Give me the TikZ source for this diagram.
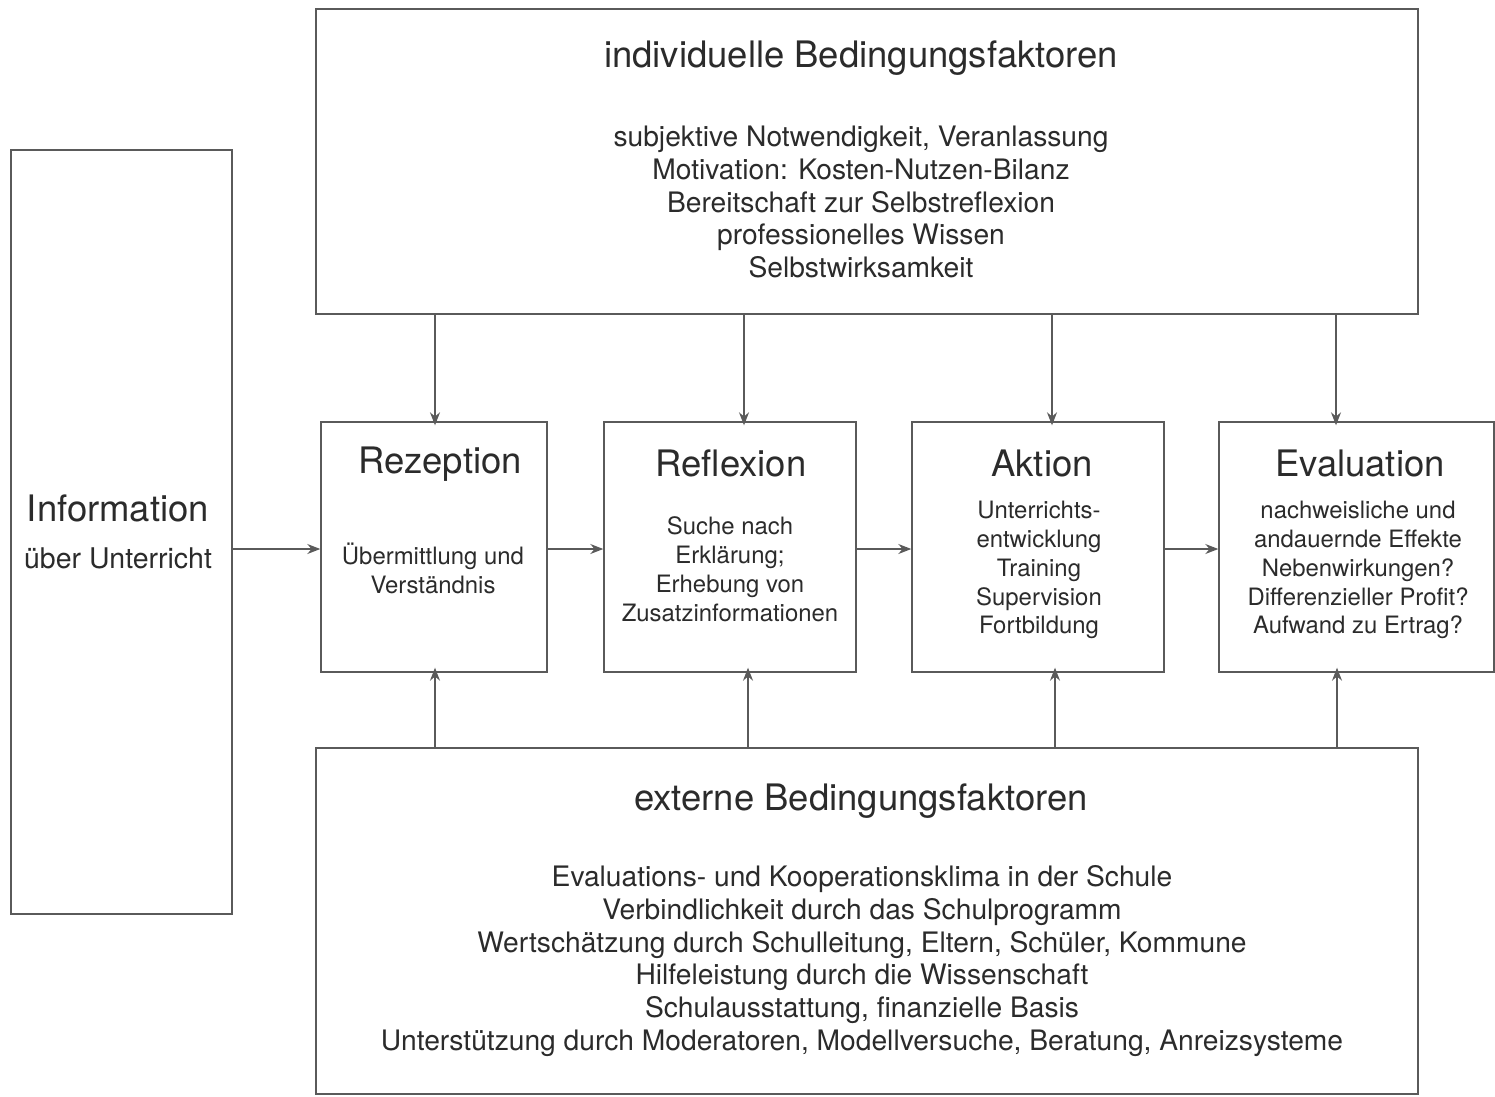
\documentclass[tikz,border=0pt]{standalone}
\usepackage{fontspec}
\setmainfont{TeX Gyre Heros}
\usepackage{tikz}
\usetikzlibrary{arrows.meta}

\definecolor{txtgrau}{HTML}{2B2B2B}
\definecolor{liniengrau}{HTML}{5A5A5A}

\tikzset{
  kasten/.style={draw=liniengrau, line width=1.4bp, inner sep=0pt, fill=white},
  titel/.style={text=txtgrau, font=\fontsize{36.6}{43}\selectfont},
  gross/.style={text=txtgrau, align=center, font=\fontsize{28.3}{33}\selectfont},
  klein/.style={text=txtgrau, align=center, font=\fontsize{24}{29}\selectfont},
  pfeil/.style={draw=liniengrau, line width=1.2bp, -{Stealth[length=13bp,width=10bp]}}
}

\begin{document}
\begin{tikzpicture}[x=1bp, y=-1bp]
  \useasboundingbox (0,0) rectangle (1495,1096);

  % Kästen
  \node[kasten, minimum width=1102bp, minimum height=305bp] (indiv) at (867,161.5) {};
  \node[kasten, minimum width=221bp, minimum height=764bp] (info) at (121.5,532) {};
  \node[kasten, minimum width=226bp, minimum height=250bp] (rez) at (434,547) {};
  \node[kasten, minimum width=252bp, minimum height=250bp] (refl) at (730,547) {};
  \node[kasten, minimum width=252bp, minimum height=250bp] (akt) at (1038,547) {};
  \node[kasten, minimum width=275bp, minimum height=250bp] (eval) at (1356.5,547) {};
  \node[kasten, minimum width=1102bp, minimum height=346bp] (extern) at (867,921) {};

  % Texte oben
  \node[titel] (indivT) at (861,58) {individuelle Bedingungsfaktoren};
  \node[gross] (indivB) at (861,202) {subjektive Notwendigkeit, Veranlassung\\
    Motivation: Kosten-Nutzen-Bilanz\\
    Bereitschaft zur Selbstreflexion\\
    professionelles Wissen\\
    Selbstwirksamkeit};

  % Information
  \node[titel] (infoT) at (118,508) {Information};
  \node[text=txtgrau, font=\fontsize{28.6}{33}\selectfont] (infoB) at (118,558) {über Unterricht};

  % Phasen
  \node[titel] (rezT) at (440,464) {Rezeption};
  \node[klein] (rezB) at (433,568) {Übermittlung und\\Verständnis};
  \node[titel] (reflT) at (731,463) {Reflexion};
  \node[klein] (reflB) at (730,569) {Suche nach\\Erklärung;\\Erhebung von\\Zusatzinformationen};
  \node[titel] (aktT) at (1042,463) {Aktion};
  \node[klein] (aktB) at (1039,570) {Unterrichts-\\entwicklung\\Training\\Supervision\\Fortbildung};
  \node[titel] (evalT) at (1360,463) {Evaluation};
  \node[klein] (evalB) at (1358,570) {nachweisliche und\\andauernde Effekte\\Nebenwirkungen?\\Differenzieller Profit?\\Aufwand zu Ertrag?};

  % Texte unten
  \node[titel] (externT) at (861,801) {externe Bedingungsfaktoren};
  \node[gross] (externB) at (862,961) {Evaluations- und Kooperationsklima in der Schule\\
    Verbindlichkeit durch das Schulprogramm\\
    Wertschätzung durch Schulleitung, Eltern, Schüler, Kommune\\
    Hilfeleistung durch die Wissenschaft\\
    Schulausstattung, finanzielle Basis\\
    Unterstützung durch Moderatoren, Modellversuche, Beratung, Anreizsysteme};

  % Pfeile von oben und unten
  \coordinate (o1) at (435,0);  \coordinate (u1) at (435,0);
  \coordinate (o2) at (744,0);  \coordinate (u2) at (748,0);
  \coordinate (o3) at (1052,0); \coordinate (u3) at (1055,0);
  \coordinate (o4) at (1336,0); \coordinate (u4) at (1337,0);
  \foreach \i/\k in {1/rez, 2/refl, 3/akt, 4/eval} {
    \draw[pfeil] (indiv.south -| o\i) -- ([yshift=-4bp]\k.north -| o\i);
    \draw[pfeil] (extern.north -| u\i) -- ([yshift=5bp]\k.south -| u\i);
  }

  % Pfeile waagrecht
  \coordinate (mitte) at (0,549);
  \draw[pfeil] (info.east |- mitte) -- (rez.west |- mitte);
  \draw[pfeil] (rez.east |- mitte) -- (refl.west |- mitte);
  \draw[pfeil] (refl.east |- mitte) -- (akt.west |- mitte);
  \draw[pfeil] (akt.east |- mitte) -- (eval.west |- mitte);
\end{tikzpicture}
\end{document}
